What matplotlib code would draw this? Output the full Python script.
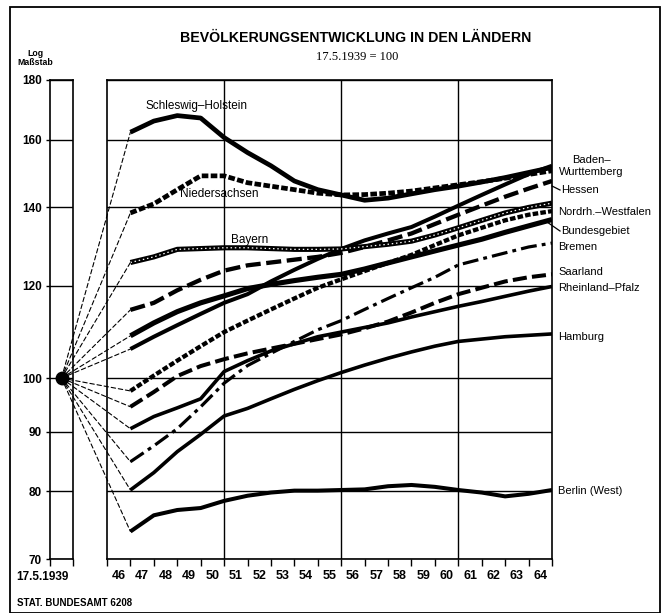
import numpy as np
import matplotlib.pyplot as plt
from matplotlib.patches import ConnectionPatch, Rectangle
from matplotlib.lines import Line2D
from matplotlib.ticker import NullLocator, FixedLocator

plt.rcParams['font.family'] = ['Liberation Sans', 'DejaVu Sans']

# Jahresendstaende, 17.5.1939 = 100
years = list(range(1946, 1965))
schleswig = [162.4, 166, 167.8, 167, 160.7, 156, 152, 147.5, 145, 143.5, 142, 142.6, 143.8, 145, 146, 147.2, 148.5, 150, 151.5]
niedersachsen = [138.5, 141, 145, 149, 149, 147, 146, 145, 144, 143.5, 143.6, 144, 144.6, 145.5, 146.4, 147.3, 148.3, 149.4, 150.5]
bayern = [125.6, 127, 128.9, 129.1, 129.3, 129.3, 129.1, 128.9, 128.9, 129, 129.6, 130.2, 131, 132.6, 134.5, 136.5, 138.5, 140, 141.2]
hessen = [114.4, 116, 118.9, 121.4, 123.6, 124.9, 125.6, 126.3, 127, 128, 129.5, 131.2, 133, 135.5, 138, 140.5, 143, 145.3, 147.5]
badenw = [105.9, 108.5, 111, 113.5, 116, 118, 121, 123.8, 126.5, 129, 131.2, 133, 134.7, 137.5, 140.5, 143.5, 146.5, 149.5, 152]
bundesgebiet = [108.7, 111.5, 114, 116, 117.6, 119.3, 120.3, 121.2, 122, 122.7, 124, 125.5, 127, 128.5, 130, 131.5, 133.3, 135, 136.7]
nrw = [97.5, 100.5, 103.5, 106.5, 109.5, 112, 114.5, 117, 119.5, 121.5, 123.5, 125.5, 127.5, 130, 132.5, 134.5, 136.5, 138, 139]
saarland = [94.5, 97.3, 100.4, 102.4, 103.8, 105, 106, 107, 108, 109, 110.3, 111.8, 113.8, 116, 118, 119.5, 121, 122, 122.7]
rheinland = [90.5, 92.7, 94.3, 96, 101.3, 103.5, 105.5, 107, 108.5, 109.5, 110.5, 111.5, 112.8, 114, 115.2, 116.3, 117.5, 118.7, 119.8]
bremen = [84.8, 87.5, 90.5, 94.5, 99, 102.5, 105, 107.5, 110, 112, 114.5, 117, 119.5, 122, 125, 126.5, 128, 129.5, 130.5]
hamburg = [80.2, 83, 86.5, 89.5, 92.8, 94.2, 96, 97.8, 99.5, 101.1, 102.6, 104, 105.3, 106.5, 107.5, 108, 108.5, 108.8, 109.1]
berlin = [73.9, 76.3, 77.1, 77.4, 78.5, 79.3, 79.8, 80.1, 80.1, 80.2, 80.3, 80.8, 81, 80.7, 80.2, 79.8, 79.2, 79.6, 80.2]

yticks = [70, 80, 90, 100, 120, 140, 160, 180]
year_labels = [str(y - 1900) for y in years]

W, H = 668, 613


def box(l, t, r, b):
    return [l / W, 1 - b / H, (r - l) / W, (b - t) / H]


def px(x, y):
    return x / W, 1 - y / H


fig = plt.figure(figsize=(W / 100, H / 100), dpi=100)
ax = fig.add_axes(box(107, 80, 552, 559))
ax0 = fig.add_axes(box(50, 80, 73, 559))

for a in (ax, ax0):
    a.set_yscale('log')
    a.set_ylim(70, 180)
    a.yaxis.set_major_locator(FixedLocator(yticks))
    a.yaxis.set_minor_locator(NullLocator())
    a.grid(axis='y', color='black', lw=1.0)
    for s in a.spines.values():
        s.set_linewidth(1.2)

# linke Saeule (17.5.1939)
ax0.set_xlim(0, 1)
ax0.set_yticklabels([str(v) for v in yticks], fontsize=8.5, fontweight='bold')
ax0.tick_params(axis='y', length=3, width=1, pad=3)
ax0.set_xticks([0, 1])
ax0.set_xticklabels([])
ax0.tick_params(axis='x', length=5, width=1)
ax0.plot(0.5, 100, 'o', color='black', ms=9, clip_on=False, zorder=5)

# Hauptfeld
x = np.array(years) - 1900 + 0.5
ax.set_xlim(45.5, 64.5)
ax.set_xticks(np.arange(45.5, 65, 1))
ax.set_xticklabels([])
ax.set_xticks(np.array(years) - 1900, minor=True)
ax.set_xticklabels(year_labels, minor=True, fontsize=9, fontweight='bold')
ax.tick_params(axis='x', which='major', length=5, width=1)
ax.tick_params(axis='x', which='minor', length=0, pad=8)
ax.tick_params(axis='y', left=False, labelleft=False)
for gx in (50.5, 55.5, 60.5):
    ax.axvline(gx, color='black', lw=1.0)

series = [
    (schleswig, dict(lw=3.4, ls='-')),
    (niedersachsen, dict(lw=3.4, dashes=(1.4, 0.5))),
    (bayern, dict(lw=3.7, ls='-')),
    (hessen, dict(lw=3.1, dashes=(3.5, 1.3))),
    (badenw, dict(lw=2.9, ls='-')),
    (bundesgebiet, dict(lw=3.7, ls='-')),
    (nrw, dict(lw=3.1, dashes=(1.3, 0.5))),
    (saarland, dict(lw=2.9, dashes=(3.5, 1.3))),
    (rheinland, dict(lw=2.6, ls='-')),
    (bremen, dict(lw=2.3, dashes=(5, 1.6, 1.2, 1.6))),
    (hamburg, dict(lw=2.6, ls='-')),
    (berlin, dict(lw=2.9, ls='-')),
]
for vals, st in series:
    ax.plot(x, vals, color='black', solid_capstyle='butt', zorder=3, **st)
    con = ConnectionPatch(xyA=(0.5, 100), coordsA=ax0.transData,
                          xyB=(x[0], vals[0]), coordsB=ax.transData,
                          color='black', lw=0.8, ls=(0, (4, 2.5)), zorder=2)
    fig.add_artist(con)
# Bayern: Doppellinie mit weissen Punkten
ax.plot(x, bayern, color='white', lw=0.9, dashes=(1.2, 2.2), zorder=4)

lab = dict(fontsize=8.5)
ax.text(49.3, 171, 'Schleswig\u2013Holstein', ha='center', va='center', **lab)
ax.text(50.3, 143.7, 'Niedersachsen', ha='center', va='center', **lab)
ax.text(51.6, 131.4, 'Bayern', ha='center', va='center', **lab)

right_labels = [
    ('Baden\u2013\nWurttemberg', 591, 166, 'center'),
    ('Hessen', 561, 190, 'left'),
    ('Nordrh.\u2013Westfalen', 558, 212, 'left'),
    ('Bundesgebiet', 561, 231, 'left'),
    ('Bremen', 558, 247, 'left'),
    ('Saarland', 558, 272, 'left'),
    ('Rheinland\u2013Pfalz', 558, 288, 'left'),
    ('Hamburg', 558, 337, 'left'),
    ('Berlin (West)', 558, 491, 'left'),
]
for txt, lx, ly, ha in right_labels:
    fig.text(*px(lx, ly), txt, ha=ha, va='center', fontsize=8,
             multialignment='center', linespacing=1.2)

for (x1, y1), (x2, y2) in [((552, 186), (560, 190)), ((547, 222), (560, 231))]:
    fig.add_artist(Line2D([x1 / W, x2 / W], [1 - y1 / H, 1 - y2 / H],
                          color='black', lw=0.9))

fig.text(*px(356, 38), 'BEV\u00d6LKERUNGSENTWICKLUNG IN DEN L\u00c4NDERN',
         ha='center', va='center', fontsize=10.2, fontweight='bold')
fig.text(*px(357, 57), '17.5.1939 = 100', ha='center', va='center',
         fontsize=9, family=['Liberation Serif', 'DejaVu Serif'])
fig.text(*px(35, 58), 'Log\nMa\u00dfstab', ha='center', va='center',
         fontsize=6.3, fontweight='bold', linespacing=1.0)
fig.text(*px(42, 577), '17.5.1939', ha='center', va='center',
         fontsize=8.5, fontweight='bold')
fig.text(*px(17, 603), 'STAT. BUNDESAMT 6208', ha='left', va='center',
         fontsize=7, fontweight='bold')

fig.add_artist(Rectangle((10 / W, 0), 650 / W, 1 - 7 / H,
                         transform=fig.transFigure, fill=False, lw=1.3, color='black'))

fig.savefig('out.png', dpi=100)
